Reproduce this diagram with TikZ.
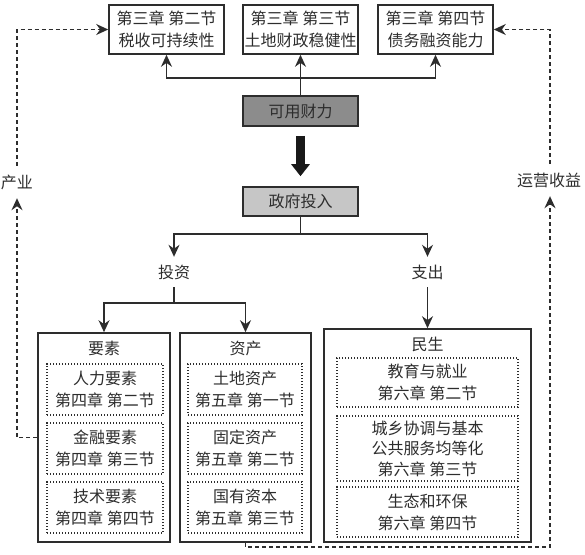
\documentclass[tikz,border=0pt]{standalone}
\usepackage{fontspec}
\setmainfont{Noto Sans CJK SC}
\usetikzlibrary{arrows.meta}
\definecolor{ink}{RGB}{45,45,45}
\definecolor{darkfill}{RGB}{140,140,140}
\definecolor{lightfill}{RGB}{198,198,198}
\begin{document}
\begin{tikzpicture}[x=1pt,y=-1pt,
  txt/.style={font=\fontsize{16}{22}\selectfont, text=ink, align=center, inner sep=0pt},
  topbox/.style={txt, draw=ink, line width=1.6pt, fill=white, minimum width=115pt, minimum height=49pt},
  midbox/.style={txt, draw=ink, line width=1.6pt, minimum width=115pt, minimum height=30pt},
  outerbox/.style={draw=ink, line width=1.6pt, inner sep=0pt, minimum height=209pt},
  dotbox/.style={txt, draw=ink, line width=1.3pt, dash pattern=on 1.4pt off 1.6pt, minimum width=116pt, minimum height=51pt},
  lbl/.style={txt, minimum height=30pt},
  conn/.style={draw=ink, line width=1.5pt, -{Stealth[length=12pt,width=11pt]}},
  plain/.style={draw=ink, line width=1.5pt},
  dashconn/.style={draw=ink, line width=1.4pt, dash pattern=on 4pt off 3pt},
  dashtip/.style={dashconn, -{Stealth[length=12pt,width=11pt]}}
]
\useasboundingbox (0,0) rectangle (585,554);

% top boxes
\node[topbox] (b1) at (166.5,29.5) {第三章 第二节\\税收可持续性};
\node[topbox] (b2) at (300.5,29.5) {第三章 第三节\\土地财政稳健性};
\node[topbox] (b3) at (435.5,29.5) {第三章 第四节\\债务融资能力};

% middle boxes
\node[midbox, fill=darkfill] (kyc) at (300.5,111) {可用财力};
\node[midbox, fill=lightfill, minimum height=29pt] (zftr) at (300.5,201.5) {政府投入};

% top connectors
\coordinate (jt) at (300.5,78);
\draw[conn] (kyc.north) -- (b2.south);
\draw[conn] (jt) -| (b1.south);
\draw[conn] (jt) -| (b3.south);

% thick arrow
\draw[draw=black!90, line width=9pt, shorten <=9pt, shorten >=10pt, -{Triangle[length=12pt,width=18pt]}] (kyc.south) -- (zftr.north);

% labels
\node[lbl] (tz) at (174,272) {投资};
\node[lbl] (zc) at (427.5,272) {支出};

\coordinate (jm) at (300.5,234);
\draw[plain] (zftr.south) -- (jm);
\draw[conn] (jm) -| (tz.north);
\draw[conn] (jm) -| (zc.north);

% outer boxes
\node[outerbox, minimum width=132pt] (ys) at (104,437.5) {};
\node[outerbox, minimum width=131pt] (zcb) at (245.5,437.5) {};
\node[outerbox, minimum width=207pt, minimum height=213pt] (ms) at (427.5,435.5) {};

\coordinate (jl) at (174,303);
\draw[plain] (tz.south) -- (jl);
\draw[conn] (jl) -| (ys.north);
\draw[conn] (jl) -| (zcb.north);
\draw[conn] (zc.south) -- (ms.north);

% titles
\node[txt] (ysT) at (104,348) {要素};
\node[txt] (zcT) at (245.5,348) {资产};
\node[txt] (msT) at (427.5,344) {民生};

% 要素 dotted boxes
\node[dotbox] (y1) at (105,389.5) {人力要素\\第四章 第二节};
\node[dotbox] (y2) at (105,448.5) {金融要素\\第四章 第三节};
\node[dotbox] (y3) at (105,507.5) {技术要素\\第四章 第四节};

% 资产 dotted boxes
\node[dotbox, minimum width=114pt] (z1) at (245,389.5) {土地资产\\第五章 第一节};
\node[dotbox, minimum width=114pt] (z2) at (245,448.5) {固定资产\\第五章 第二节};
\node[dotbox, minimum width=114pt] (z3) at (245,507.5) {国有资本\\第五章 第三节};

% 民生 dotted boxes
\node[dotbox, minimum width=181pt, minimum height=49pt] (m1) at (427.5,382.5) {教育与就业\\第六章 第二节};
\node[dotbox, minimum width=181pt, minimum height=65pt, font=\fontsize{16}{20.5}\selectfont] (m2) at (427.5,448.5) {城乡协调与基本\\公共服务均等化\\第六章 第三节};
\node[dotbox, minimum width=181pt, minimum height=50pt] (m3) at (427.5,512) {生态和环保\\第六章 第四节};

% feedback labels
\node[txt, minimum height=32pt] (cy) at (17,182) {产业};
\node[txt, minimum height=32pt] (yy) at (549,180) {运营收益};

% left dashed feedback
\draw[dashtip] (ys.west) -| (cy.south);
\draw[dashtip] (cy.north) |- (b1.west);

% right dashed feedback
\coordinate (br) at (550,547);
\draw[dashtip] (zcb.south) |- (br) -- (br |- yy.south);
\draw[dashtip] (yy.north -| br) |- (b3.east);
\end{tikzpicture}
\end{document}
